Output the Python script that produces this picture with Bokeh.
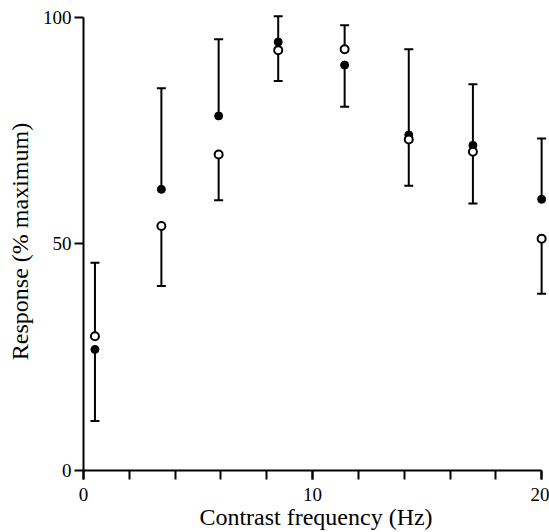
import numpy as np
from bokeh.plotting import figure
from bokeh.models import FixedTicker, Range1d
from bokeh.embed import file_html
from bokeh.resources import INLINE

# Data
freq = [0.5, 3.4, 5.9, 8.5, 11.4, 14.2, 17.0, 20.0]
filled = [26.7, 62.0, 78.2, 94.5, 89.4, 74.0, 71.7, 59.8]
open_ = [29.6, 53.9, 69.7, 92.7, 92.9, 73.0, 70.3, 51.1]
bar_top = [45.8, 84.3, 95.1, 100.2, 98.2, 92.9, 85.2, 73.2]
bar_bottom = [10.9, 40.7, 59.6, 85.9, 80.2, 62.8, 58.9, 39.0]

x_major = [0, 10, 20]
x_minor = [0, 2, 4, 6, 8, 10, 12, 14, 16, 18, 20]
y_major = [0, 50, 100]

FONT = "Liberation Serif"

p = figure(width=549, height=532, output_backend="svg", toolbar_location=None,
           x_range=Range1d(0, 20.3), y_range=Range1d(0, 101),
           min_border_left=83, min_border_right=1, min_border_top=12, min_border_bottom=62)
p.outline_line_color = None
p.xgrid.visible = False
p.ygrid.visible = False
p.background_fill_color = "white"
p.border_fill_color = "white"

hi = np.maximum(filled, open_)
lo = np.minimum(filled, open_)

p.segment(x0=freq, y0=hi, x1=freq, y1=bar_top, line_color="black", line_width=2)
p.segment(x0=freq, y0=lo, x1=freq, y1=bar_bottom, line_color="black", line_width=2)
p.scatter(x=freq, y=bar_top, marker="dash", size=9, line_color="black", line_width=2)
p.scatter(x=freq, y=bar_bottom, marker="dash", size=9, line_color="black", line_width=2)
p.scatter(x=freq, y=filled, marker="circle", size=8, fill_color="black", line_color="black")
p.scatter(x=freq, y=open_, marker="circle", size=8, fill_color="white", line_color="black", line_width=2)

for ax in (p.xaxis[0], p.yaxis[0]):
    ax.axis_line_width = 2
    ax.axis_line_color = "black"
    ax.major_tick_line_width = 2
    ax.minor_tick_line_width = 2
    ax.major_tick_line_color = "black"
    ax.minor_tick_line_color = "black"
    ax.major_tick_in = 0
    ax.major_tick_out = 9
    ax.minor_tick_in = 0
    ax.minor_tick_out = 9
    ax.major_label_text_font = FONT
    ax.major_label_text_font_size = "19px"
    ax.major_label_text_color = "black"
    ax.axis_label_text_font = FONT
    ax.axis_label_text_font_size = "24px"
    ax.axis_label_text_font_style = "normal"
    ax.axis_label_text_color = "black"

p.xaxis[0].ticker = FixedTicker(ticks=x_major, minor_ticks=x_minor)
p.yaxis[0].ticker = FixedTicker(ticks=y_major, minor_ticks=[])
p.xaxis[0].bounds = (0, 20)
p.yaxis[0].bounds = (0, 100)
p.xaxis[0].axis_label = "Contrast frequency (Hz)"
p.yaxis[0].axis_label = "Response (% maximum)"
p.xaxis[0].major_label_standoff = 8
p.yaxis[0].major_label_standoff = 3
p.xaxis[0].axis_label_standoff = 0
p.yaxis[0].axis_label_standoff = 7

open("out.html", "w").write(file_html(p, INLINE))
